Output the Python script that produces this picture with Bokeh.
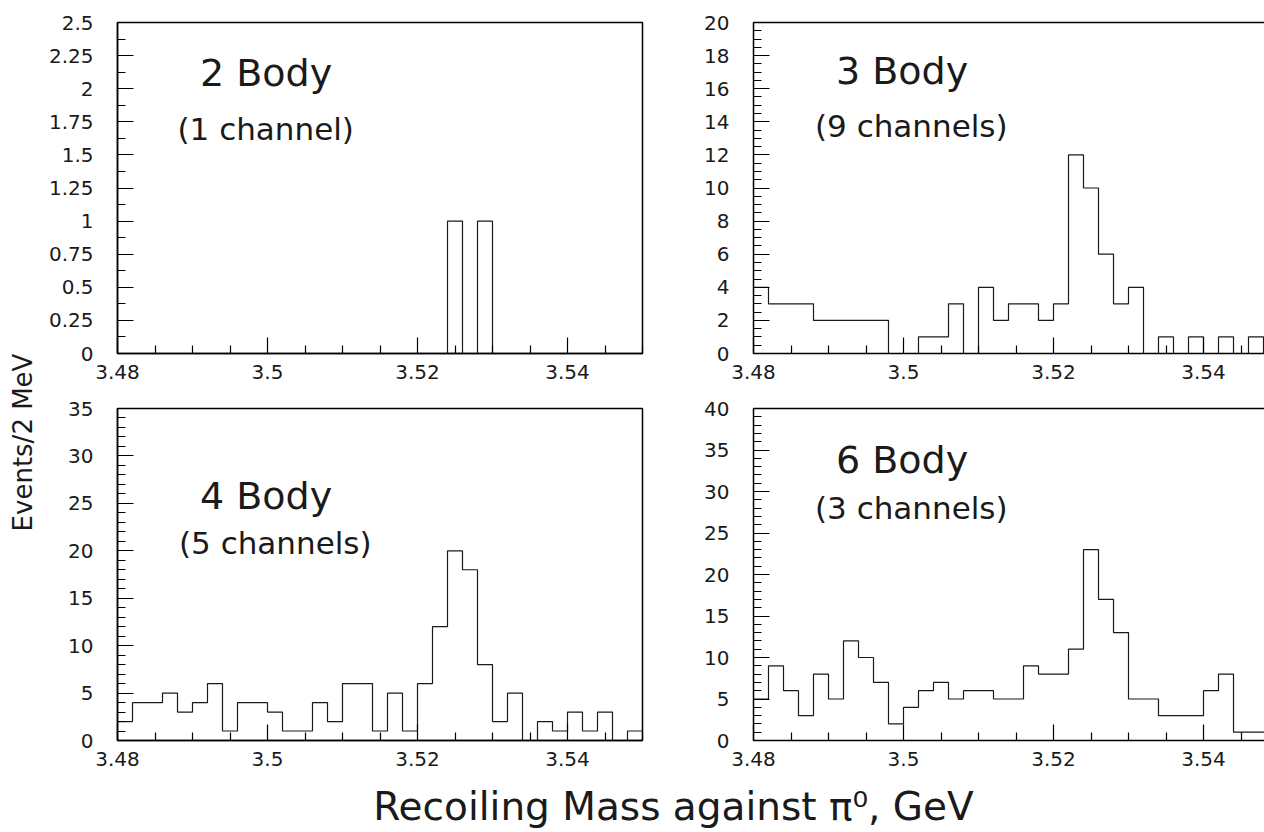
import numpy as np
from bokeh.plotting import figure
from bokeh.models import FixedTicker, LinearAxis, Range1d, Label
from bokeh.layouts import row, column
from bokeh.embed import file_html
from bokeh.resources import INLINE

FONT = "DejaVu Sans"
INK = "#1a1a1a"

# ---------------- data ----------------
bin_low = 3.48
bin_width = 0.002

x_major = [3.48, 3.50, 3.52, 3.54]
x_major_labels = ["3.48", "3.5", "3.52", "3.54"]

counts_2body = [0, 0, 0, 0, 0, 0, 0, 0, 0, 0, 0, 0, 0, 0, 0, 0, 0, 0, 0, 0, 0, 0,
                1, 0, 1, 0, 0, 0, 0, 0, 0, 0, 0, 0, 0]
counts_3body = [4, 3, 3, 3, 2, 2, 2, 2, 2, 0, 0, 1, 1, 3, 0, 4, 2, 3, 3, 2, 3, 12,
                10, 6, 3, 4, 0, 1, 0, 1, 0, 1, 0, 1, 0]
counts_4body = [2, 4, 4, 5, 3, 4, 6, 1, 4, 4, 3, 1, 1, 4, 2, 6, 6, 1, 5, 1, 6, 12,
                20, 18, 8, 2, 5, 0, 2, 1, 3, 1, 3, 0, 1]
counts_6body = [5, 9, 6, 3, 8, 5, 12, 10, 7, 2, 4, 6, 7, 5, 6, 6, 5, 5, 9, 8, 8, 11,
                23, 17, 13, 5, 5, 3, 3, 3, 6, 8, 1, 1, 1]

y_major_2body = [0, 0.25, 0.5, 0.75, 1, 1.25, 1.5, 1.75, 2, 2.25, 2.5]
y_labels_2body = ["0", "0.25", "0.5", "0.75", "1", "1.25", "1.5", "1.75", "2", "2.25", "2.5"]
y_major_3body = [0, 2, 4, 6, 8, 10, 12, 14, 16, 18, 20]
y_labels_3body = ["0", "2", "4", "6", "8", "10", "12", "14", "16", "18", "20"]
y_major_4body = [0, 5, 10, 15, 20, 25, 30, 35]
y_labels_4body = ["0", "5", "10", "15", "20", "25", "30", "35"]
y_major_6body = [0, 5, 10, 15, 20, 25, 30, 35, 40]
y_labels_6body = ["0", "5", "10", "15", "20", "25", "30", "35", "40"]

titles = ["2 Body", "3 Body", "4 Body", "6 Body"]
subtitles = ["(1 channel)", "(9 channels)", "(5 channels)", "(3 channels)"]

x_title = "Recoiling Mass against \u03c0\u2070, GeV"
y_title = "Events/2 MeV"


def minor_list(lo, hi, step, majors):
    vals = np.round(np.arange(lo, hi + step / 2, step), 4)
    return [float(v) for v in vals if all(abs(v - m) > 1e-9 for m in majors)]


def style_axis(ax):
    ax.axis_line_color = "black"
    ax.axis_line_width = 1.5
    ax.major_tick_in = 16
    ax.major_tick_out = 0
    ax.minor_tick_in = 8
    ax.minor_tick_out = 0
    ax.major_tick_line_color = "black"
    ax.minor_tick_line_color = "black"
    ax.major_tick_line_width = 1.2
    ax.minor_tick_line_width = 1.2
    ax.major_label_text_font = FONT
    ax.major_label_text_font_size = "20px"
    ax.major_label_text_color = INK


def panel(counts, ymax, ymajor, ylabels, ystep, title, subtitle, tpos, spos,
          width, height, mb_left, mb_right, mb_top, mb_bottom, x_end, cut_right):
    p = figure(width=width, height=height, output_backend="svg", toolbar_location=None,
               title=None, x_range=Range1d(bin_low, x_end), y_range=Range1d(0, ymax),
               min_border_left=mb_left, min_border_right=mb_right,
               min_border_top=mb_top, min_border_bottom=mb_bottom,
               background_fill_color="white", border_fill_color="white")
    p.grid.visible = False

    xa = p.below[0]
    xa.ticker = FixedTicker(ticks=x_major,
                            minor_ticks=minor_list(bin_low, 3.55, 0.005, x_major))
    xa.major_label_overrides = {float(v): s for v, s in zip(x_major, x_major_labels)}
    style_axis(xa)
    xa.major_label_standoff = 11

    ya = p.left[0]
    ya.ticker = FixedTicker(ticks=ymajor, minor_ticks=minor_list(0, ymax, ystep, ymajor))
    ya.major_label_overrides = {float(v): s for v, s in zip(ymajor, ylabels)}
    style_axis(ya)
    ya.major_label_standoff = 24

    if cut_right:
        p.outline_line_color = None
        top = LinearAxis(ticker=FixedTicker(ticks=[]), major_tick_line_color=None,
                         minor_tick_line_color=None, major_tick_out=0, minor_tick_out=0,
                         major_tick_in=0, minor_tick_in=0,
                         major_label_standoff=0, major_label_text_font_size="0px",
                         axis_line_color="black", axis_line_width=1.5)
        p.add_layout(top, "above")
    else:
        p.outline_line_color = "black"
        p.outline_line_width = 1.5
        p.outline_line_alpha = 1.0

    edges = bin_low + bin_width * np.arange(len(counts) + 1)
    ys = list(counts) + [counts[-1]]
    p.step(edges, ys, mode="after", line_color=INK, line_width=1.2)

    p.add_layout(Label(x=tpos[0], y=tpos[1], text=title, text_font=FONT,
                       text_font_size="38px", text_color=INK, text_align="left",
                       text_baseline="middle"))
    p.add_layout(Label(x=spos[0], y=spos[1], text=subtitle, text_font=FONT,
                       text_font_size="31px", text_color=INK, text_align="left",
                       text_baseline="middle"))
    return p


RIGHT_END = 3.548133

# top row: frames y 22-353 ; bottom row: frames y 408-740
p1 = panel(counts_2body, 2.5, y_major_2body, y_labels_2body, 0.125, titles[0], subtitles[0],
           (3.4910, 2.121), (3.4880, 1.699), 650, 395, 77, 48, 22, 42, 3.55, False)
p2 = panel(counts_3body, 20, y_major_3body, y_labels_3body, 0.5, titles[1], subtitles[1],
           (3.4910, 17.04), (3.4882, 13.75), 574, 395, 63, 0, 22, 42, RIGHT_END, True)
p3 = panel(counts_4body, 35, y_major_4body, y_labels_4body, 1, titles[2], subtitles[2],
           (3.4910, 25.78), (3.4882, 20.81), 650, 383, 77, 48, 13, 38, 3.55, False)
p4 = panel(counts_6body, 40, y_major_6body, y_labels_6body, 1, titles[3], subtitles[3],
           (3.4910, 33.82), (3.4882, 28.06), 574, 383, 63, 0, 13, 38, RIGHT_END, True)

# common x title strip
xt = figure(width=1224, height=54, output_backend="svg", toolbar_location=None, title=None,
            x_range=Range1d(0, 1224), y_range=Range1d(0, 54),
            x_axis_location=None, y_axis_location=None,
            min_border_left=0, min_border_right=0, min_border_top=0, min_border_bottom=0,
            background_fill_color="white", border_fill_color="white", outline_line_color=None)
xt.grid.visible = False
xt.add_layout(Label(x=633, y=26, text=x_title, text_font=FONT, text_font_size="39px",
                    text_color=INK, text_align="center", text_baseline="middle"))

# common y title strip
yt = figure(width=40, height=832, output_backend="svg", toolbar_location=None, title=None,
            x_range=Range1d(0, 40), y_range=Range1d(0, 832),
            x_axis_location=None, y_axis_location=None,
            min_border_left=0, min_border_right=0, min_border_top=0, min_border_bottom=0,
            background_fill_color="white", border_fill_color="white", outline_line_color=None)
yt.grid.visible = False
yt.add_layout(Label(x=22.5, y=390, text=y_title, text_font=FONT, text_font_size="26px",
                    text_color=INK, text_align="center", text_baseline="middle",
                    angle=np.pi / 2))

layout = row(yt, column(row(p1, p2), row(p3, p4), xt))

open("out.html", "w").write(file_html(layout, INLINE))
